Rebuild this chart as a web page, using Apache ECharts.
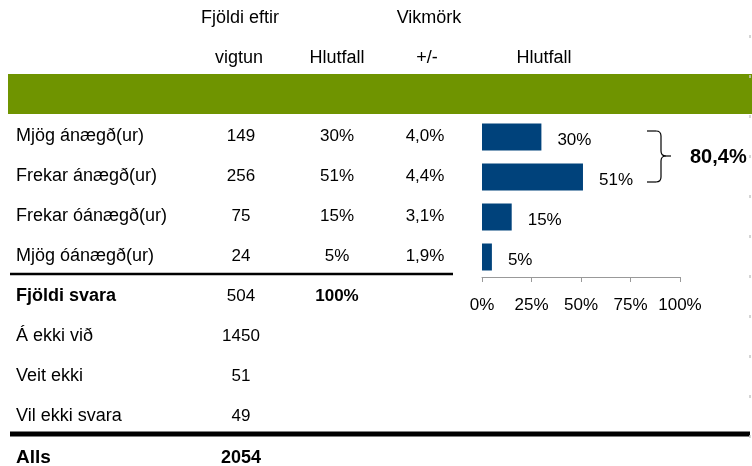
<!DOCTYPE html>
<html>
<head>
<meta charset="utf-8">
<script src="https://cdn.jsdelivr.net/npm/echarts@6/dist/echarts.min.js"></script>
<style>
	html, body { margin: 0; padding: 0; background: #fff; }
	#chart { width: 752px; height: 466px; }
</style>
</head>
<body>
<div id="chart"></div>
<script>
// svarflokkar
var categories = ['Mjög ánægð(ur)', 'Frekar ánægð(ur)', 'Frekar óánægð(ur)', 'Mjög óánægð(ur)'];
var counts = [149, 256, 75, 24]; // fjöldi eftir vigtun
var shares = [30, 51, 15, 5]; // hlutfall %
var margins = ['4,0%', '4,4%', '3,1%', '1,9%']; // vikmörk +/-
// aðrar línur
var otherLabels = ['Á ekki við', 'Veit ekki', 'Vil ekki svara'];
var otherCounts = [1450, 51, 49];
var totalAnswers = 504;
var totalAll = 2054;
var satisfiedShare = '80,4%';
var axisTicks = [0, 25, 50, 75, 100];

var FONT = '"Liberation Sans", Arial, sans-serif';
var COL_LABEL = 16;
var COL_COUNT = 241;
var COL_SHARE = 337;
var COL_MARGIN = 425;

function txt(x, y, text, align, bold, size) {
	return {
		type: 'text',
		x: x,
		y: y,
		style: {
			text: String(text),
			fill: '#000',
			font: (bold ? 'bold ' : '') + (size || 17) + 'px ' + FONT,
			align: align || 'center',
			verticalAlign: 'middle'
		}
	};
}
function seg(x1, y1, x2, y2, w) {
	return { type: 'line', shape: { x1: x1, y1: y1, x2: x2, y2: y2 }, style: { stroke: '#000', lineWidth: w } };
}
function curve(x1, y1, cx, cy, x2, y2) {
	return {
		type: 'bezierCurve',
		shape: { x1: x1, y1: y1, cpx1: cx, cpy1: cy, x2: x2, y2: y2 },
		style: { stroke: '#000', lineWidth: 1.2, fill: null }
	};
}

var graphics = [];
// grænn borði
graphics.push({ type: 'rect', shape: { x: 8, y: 74, width: 744, height: 40 }, style: { fill: '#6f9400' } });
// fyrirsagnir
graphics.push(txt(240, 18, 'Fjöldi eftir', 'center', false, 18));
graphics.push(txt(239, 58, 'vigtun', 'center', false, 18));
graphics.push(txt(COL_SHARE, 58, 'Hlutfall', 'center', false, 18));
graphics.push(txt(429, 18, 'Vikmörk', 'center', false, 18));
graphics.push(txt(427, 58, '+/-', 'center', false, 18));
graphics.push(txt(544, 58, 'Hlutfall', 'center', false, 18));

// svarflokkar
categories.forEach(function(c, i) {
	var y = 136 + i * 40;
	graphics.push(txt(COL_LABEL, y, c, 'left', false, 18));
	graphics.push(txt(COL_COUNT, y, counts[i]));
	graphics.push(txt(COL_SHARE, y, shares[i] + '%'));
	graphics.push(txt(COL_MARGIN, y, margins[i]));
});
// lína undir flokkum
graphics.push(seg(10, 274, 453, 274, 2.5));

// fjöldi svara
graphics.push(txt(COL_LABEL, 296, 'Fjöldi svara', 'left', true, 18));
graphics.push(txt(COL_COUNT, 296, totalAnswers));
graphics.push(txt(COL_SHARE, 296, '100%', 'center', true));
otherLabels.forEach(function(c, i) {
	var y = 336 + i * 40;
	graphics.push(txt(COL_LABEL, y, c, 'left', false, 18));
	graphics.push(txt(COL_COUNT, y, otherCounts[i]));
});
// þykk lína
graphics.push(seg(10, 434, 750, 434, 5));
graphics.push(txt(COL_LABEL, 458, 'Alls', 'left', true, 19));
graphics.push(txt(COL_COUNT, 458, totalAll, 'center', true, 18));

// slaufusvigi
graphics.push(seg(647, 131, 656, 131, 1.2));
graphics.push(curve(656, 131, 661, 131, 661, 136));
graphics.push(seg(661, 136, 661, 151, 1.2));
graphics.push(curve(661, 151, 661, 156, 666, 156));
graphics.push(seg(666, 156, 671, 156, 1.2));
graphics.push(curve(666, 156, 661, 156, 661, 161));
graphics.push(seg(661, 161, 661, 177, 1.2));
graphics.push(curve(661, 177, 661, 182, 656, 182));
graphics.push(seg(647, 182, 656, 182, 1.2));
graphics.push(txt(690, 157, satisfiedShare, 'left', true, 20));
// dauf strikalína hægra megin
graphics.push({
	type: 'line',
	shape: { x1: 750, y1: 35, x2: 750, y2: 440 },
	style: { stroke: '#c8c8c8', lineWidth: 1.5, lineDash: [3, 37] }
});

var myChart = echarts.init(document.getElementById('chart'));
myChart.setOption({
	animation: false,
	grid: { left: 482, right: 72, top: 117, height: 160 },
	xAxis: {
		type: 'value',
		min: axisTicks[0],
		max: axisTicks[axisTicks.length - 1],
		interval: axisTicks[1] - axisTicks[0],
		splitLine: { show: false },
		axisLine: { show: true, lineStyle: { color: '#999', width: 1 } },
		axisTick: { show: true, length: 5, lineStyle: { color: '#999' } },
		axisLabel: {
			formatter: '{value}%',
			color: '#000',
			fontSize: 17,
			fontFamily: FONT,
			margin: 20
		}
	},
	yAxis: {
		type: 'category',
		inverse: true,
		data: categories,
		axisLine: { show: false },
		axisTick: { show: false },
		axisLabel: { show: false }
	},
	series: [
		{
			type: 'bar',
			data: shares,
			barWidth: 27,
			itemStyle: { color: '#00427b' },
			label: {
				show: true,
				position: 'right',
				distance: 16,
				offset: [0, 3],
				formatter: '{c}%',
				color: '#000',
				fontSize: 17,
				fontFamily: FONT
			}
		}
	],
	graphic: graphics
});
</script>
</body>
</html>
